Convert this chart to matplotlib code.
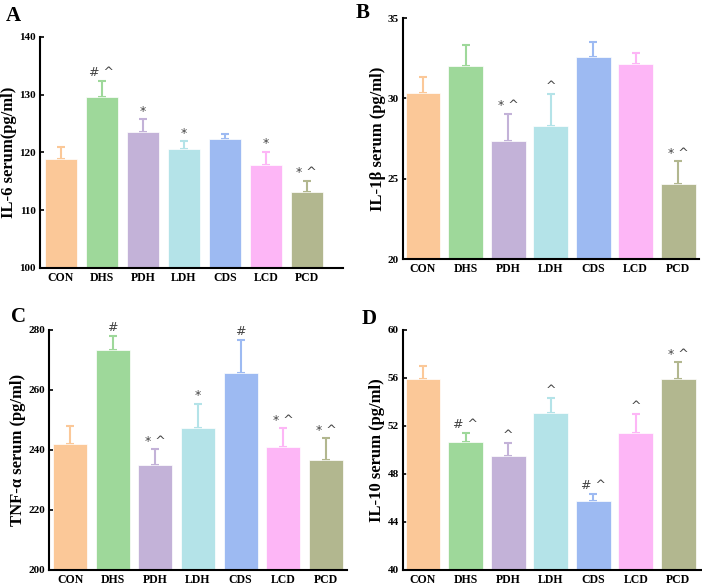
import matplotlib.pyplot as plt

plt.rcParams['font.family'] = ['Liberation Serif', 'DejaVu Serif']
plt.rcParams['font.weight'] = 'bold'

groups = ['CON', 'DHS', 'PDH', 'LDH', 'CDS', 'LCD', 'PCD']
colors = ['#FBC898', '#9ED89A', '#C3B2D8', '#B4E3E8', '#9DBAF2', '#FDB6F6', '#B2B78F']

# IL-6
il6 = [118.9, 129.6, 123.6, 120.6, 122.4, 117.9, 113.2]
il6_err = [2.1, 2.8, 2.2, 1.3, 0.7, 2.2, 1.9]
il6_sig = ['', '# ^', '*', '*', '', '*', '* ^']

# IL-1beta
il1b = [30.33, 31.99, 27.37, 28.27, 32.57, 32.16, 24.69]
il1b_err = [1.03, 1.33, 1.67, 1.99, 0.95, 0.66, 1.41]
il1b_sig = ['', '', '* ^', '^', '', '', '* ^']

# TNF-alpha
tnf = [242.1, 273.3, 234.8, 247.4, 265.8, 240.8, 236.7]
tnf_err = [5.8, 4.7, 5.4, 8.0, 11.0, 6.5, 7.1]
tnf_sig = ['', '#', '* ^', '*', '#', '* ^', '* ^']

# IL-10
il10 = [55.94, 50.69, 49.47, 53.11, 45.72, 51.42, 55.92]
il10_err = [1.09, 0.73, 1.09, 1.20, 0.61, 1.55, 1.41]
il10_sig = ['', '# ^', '^', '^', '# ^', '^', '* ^']

fig = plt.figure(figsize=(7.02, 5.85), dpi=100)

panels = [
    ('A', [0.057, 0.542, 0.432, 0.395], il6, il6_err, il6_sig, 'IL-6 serum(pg/ml)',
     (100, 140), [100, 110, 120, 130, 140], (-0.51, 6.89), 0.78),
    ('B', [0.574, 0.557, 0.422, 0.412], il1b, il1b_err, il1b_sig, 'IL-1β serum (pg/ml)',
     (20, 35), [20, 25, 30, 35], (-0.47, 6.49), 0.82),
    ('C', [0.070, 0.026, 0.424, 0.410], tnf, tnf_err, tnf_sig, 'TNF-α serum (pg/ml)',
     (200, 280), [200, 220, 240, 260, 280], (-0.49, 6.49), 0.80),
    ('D', [0.574, 0.026, 0.424, 0.410], il10, il10_err, il10_sig, 'IL-10 serum (pg/ml)',
     (40, 60), [40, 44, 48, 52, 56, 60], (-0.47, 6.52), 0.82),
]

letter_pos = {'A': (0.008, 0.990), 'B': (0.506, 0.995), 'C': (0.015, 0.475), 'D': (0.515, 0.472)}

for letter, rect, vals, errs, sigs, ylabel, ylim, yticks, xlim, w in panels:
    ax = fig.add_axes(rect)
    x = range(len(groups))
    span = ylim[1] - ylim[0]
    for i in x:
        ax.bar(i, vals[i], width=w, color=colors[i], edgecolor='white', linewidth=0.5, zorder=2)
        ax.errorbar(i, vals[i], yerr=[[0], [errs[i]]], color=colors[i], ecolor=colors[i],
                    elinewidth=1.5, capsize=3, capthick=1.5, fmt='none', zorder=1)
        if sigs[i]:
            ax.text(i, vals[i] + errs[i] + span * 0.006, sigs[i], ha='center', va='bottom',
                    fontsize=9, color='#444444', fontweight='normal',
                    family=['DejaVu Sans'])
    ax.set_ylim(*ylim)
    ax.set_xlim(*xlim)
    ax.set_yticks(yticks)
    ax.set_xticks(list(x))
    ax.set_xticklabels(groups, fontsize=8.5, fontweight='bold')
    for lab in ax.get_yticklabels():
        lab.set_fontsize(8)
        lab.set_fontweight('bold')
    ax.set_ylabel(ylabel, fontsize=12, fontweight='bold', labelpad=1.5)
    ax.spines['top'].set_visible(False)
    ax.spines['right'].set_visible(False)
    ax.spines['left'].set_linewidth(1.5)
    ax.spines['bottom'].set_linewidth(1.5)
    ax.tick_params(direction='in', length=3, width=1.2, pad=3)
    fig.text(letter_pos[letter][0], letter_pos[letter][1], letter, fontsize=15,
             fontweight='bold', ha='left', va='top')

plt.savefig('out.png', dpi=100)
